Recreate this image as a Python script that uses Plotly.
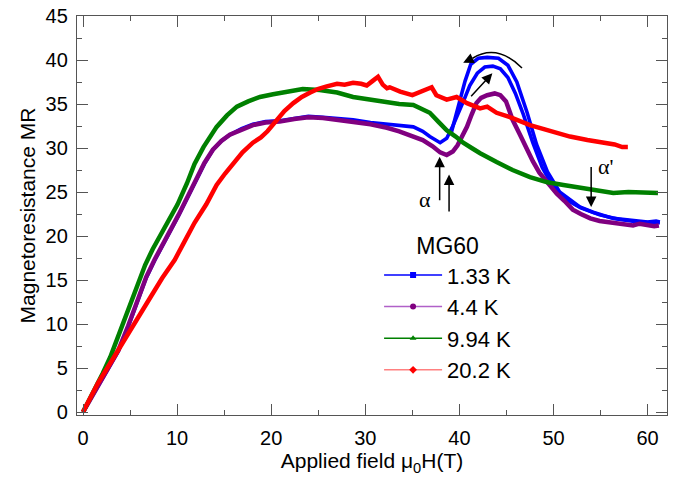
import plotly.graph_objects as go

# ---- data ----
x_44 = [0, 1.1, 2.1, 3.1, 3.75, 4.8, 5.9, 6.7, 7.6, 8.4, 9.3, 10.15, 11.05, 12.1, 12.9, 13.8, 14.7, 15.6,
        16.85, 18.05, 19.4, 20.9, 22.45, 23.95, 25.5, 27.0, 28.7, 30.55, 32.3, 33.6, 35.1, 36.1, 37.15,
        37.95, 38.65, 39.3, 39.8, 40.3, 40.8, 41.3, 41.8, 42.3, 42.95, 43.75, 44.35, 44.95, 45.65, 46.4,
        47.2, 47.8, 48.5, 49.35, 50.35, 51.15, 52.05, 52.9, 53.9, 54.9, 56.35, 57.45, 58.45, 59.15, 60.0,
        60.7, 61.2]
y_44 = [0, 2.1, 4.1, 5.9, 7.0, 9.8, 13.1, 15.3, 17.3, 19.0, 20.7, 22.4, 24.4, 26.7, 28.3, 29.8, 30.8, 31.5,
        32.1, 32.6, 32.9, 33.0, 33.3, 33.5, 33.4, 33.2, 33.0, 32.7, 32.3, 31.9, 31.3, 30.9, 30.2, 29.5, 29.2,
        29.6, 30.3, 31.3, 32.4, 33.8, 35.1, 35.7, 36.0, 36.2, 36.0, 35.3, 33.2, 31.6, 29.8, 28.5, 27.2, 26.0,
        24.8, 24.0, 23.0, 22.5, 22.0, 21.7, 21.5, 21.4, 21.2, 21.4, 21.2, 21.1, 21.2]

x_133_up = [0, 1.1, 2.1, 3.1, 3.75, 4.8, 5.9, 6.7, 7.6, 8.4, 9.3, 10.15, 11.05, 12.1, 12.9, 13.8, 14.7,
            15.6, 16.85, 18.05, 19.4, 20.9, 22.45, 23.95, 25.5, 27.0, 28.7, 30.55, 31.55, 33.1, 35.1, 36.1,
            36.85, 37.95, 38.65, 39.3, 39.9, 40.5, 41.1, 41.9, 42.7, 43.55, 44.35, 45.15, 45.95, 46.8, 47.8,
            48.8, 49.85, 51.05, 52.9, 54.9, 56.95, 58.95, 60.6, 61.3]
y_133_up = [0, 2.0, 4.0, 5.8, 6.9, 9.7, 13.0, 15.2, 17.2, 18.9, 20.6, 22.3, 24.3, 26.6, 28.2, 29.8, 30.8,
            31.5, 32.2, 32.7, 33.0, 33.1, 33.4, 33.6, 33.5, 33.4, 33.2, 32.9, 32.8, 32.6, 32.4, 31.9, 31.3,
            30.6, 31.1, 32.5, 33.9, 35.5, 37.1, 38.5, 39.2, 39.3, 39.0, 38.0, 36.2, 33.8, 30.6, 27.8, 25.8,
            24.3, 23.2, 22.4, 21.9, 21.6, 21.5, 21.5]

x_133_down = [61.3, 60.9, 60.0, 57.95, 56.35, 54.2, 52.8, 50.65, 49.35, 48.2, 47.2, 46.1, 45.15, 44.15,
              42.95, 42.0, 41.2, 40.6, 40.0, 39.5, 39.1]
y_133_down = [21.6, 21.7, 21.6, 21.8, 22.0, 22.7, 23.3, 25.0, 27.3, 30.4, 34.0, 37.5, 39.4, 40.2, 40.3,
              40.2, 39.5, 37.6, 35.3, 33.0, 31.6]

x_994 = [0, 1.1, 2.1, 2.9, 3.85, 4.8, 5.7, 6.6, 7.4, 8.3, 9.25, 10.05, 11.05, 11.85, 12.8, 13.5, 14.2, 15.3,
         16.35, 17.55, 18.8, 20.2, 21.7, 23.35, 25.15, 27.0, 28.7, 30.55, 32.3, 33.6, 35.1, 36.85, 37.75,
         38.65, 39.6, 40.4, 41.3, 42.2, 43.95, 45.65, 47.5, 49.35, 51.05, 52.8, 54.5, 56.35, 57.95, 59.5,
         60.4, 61.1]
y_994 = [0, 2.2, 4.4, 6.25, 8.9, 11.6, 14.3, 16.7, 18.5, 20.2, 22.0, 23.6, 26.0, 28.2, 30.1, 31.3, 32.4,
         33.7, 34.7, 35.3, 35.8, 36.1, 36.4, 36.7, 36.6, 36.3, 35.8, 35.5, 35.1, 35.0, 34.9, 34.0, 33.0,
         32.0, 31.3, 30.6, 30.0, 29.4, 28.4, 27.5, 26.7, 26.1, 25.8, 25.5, 25.2, 24.9, 25.0, 24.9, 24.9, 24.9]

x_202 = [0, 0.9, 1.6, 3.15, 4.75, 6.0, 7.2, 8.4, 9.75, 10.75, 11.85, 13.1, 14.2, 15.1, 15.95, 16.95, 18.05,
         18.9, 19.6, 20.6, 21.4, 22.35, 23.25, 24.15, 24.95, 25.9, 27.0, 27.8, 28.7, 29.55, 30.15, 30.75,
         31.35, 31.85, 32.3, 32.6, 33.7, 35.0, 36.15, 37.05, 37.55, 38.65, 39.7, 40.8, 42.2, 42.95, 43.95,
         45.65, 47.5, 49.35, 50.35, 51.75, 53.6, 55.7, 56.5, 57.3, 57.9]
y_202 = [0, 1.8, 3.3, 6.0, 8.9, 11.0, 13.1, 15.2, 17.3, 19.3, 21.5, 23.6, 25.8, 27.1, 28.3, 29.5, 30.6,
         31.2, 31.9, 33.2, 34.2, 35.1, 35.8, 36.3, 36.7, 37.0, 37.3, 37.2, 37.4, 37.3, 37.1, 37.6, 38.1,
         37.2, 36.8, 36.9, 36.4, 36.0, 36.5, 36.9, 36.0, 35.5, 35.8, 35.1, 34.5, 34.7, 34.0, 33.4, 32.6,
         32.0, 31.7, 31.3, 30.9, 30.6, 30.4, 30.1, 30.1]

legend_names = ["1.33 K", "4.4 K", "9.94 K", "20.2 K"]
legend_title = "MG60"

BLUE = "#0000ff"
PURPLE = "#800080"
GREEN = "#008000"
RED = "#ff0000"
LW = 4.5
LW_BLUE = 3.6

fig = go.Figure()

# data curves (drawn in stacking order: blue, purple, green, red)
fig.add_trace(go.Scatter(x=x_133_up, y=y_133_up, mode="lines", line=dict(color=BLUE, width=LW_BLUE),
                         showlegend=False, hoverinfo="skip"))
fig.add_trace(go.Scatter(x=x_133_down, y=y_133_down, mode="lines", line=dict(color=BLUE, width=LW_BLUE),
                         showlegend=False, hoverinfo="skip"))
fig.add_trace(go.Scatter(x=x_44, y=y_44, mode="lines", line=dict(color=PURPLE, width=LW),
                         showlegend=False, hoverinfo="skip"))
fig.add_trace(go.Scatter(x=x_994, y=y_994, mode="lines", line=dict(color=GREEN, width=LW),
                         showlegend=False, hoverinfo="skip"))
fig.add_trace(go.Scatter(x=x_202, y=y_202, mode="lines", line=dict(color=RED, width=LW),
                         showlegend=False, hoverinfo="skip"))

# legend entries
leg_styles = [
    (BLUE, BLUE, "square"),
    ("#b060c8", PURPLE, "circle"),
    (GREEN, GREEN, "triangle-up"),
    ("#ff8080", RED, "diamond"),
]
for name, (lc, mc, sym) in zip(legend_names, leg_styles):
    fig.add_trace(go.Scatter(x=[None], y=[None], mode="lines+markers", name=name,
                             line=dict(color=lc, width=1.5),
                             marker=dict(color=mc, symbol=sym, size=6)))

# annotations
arrow_kw = dict(showarrow=True, arrowhead=2, arrowsize=1.4, arrowwidth=1.5, arrowcolor="black",
                axref="x", ayref="y", text="")
fig.add_annotation(x=37.9, y=29.0, ax=37.9, ay=23.9, **arrow_kw)
fig.add_annotation(x=38.9, y=27.0, ax=38.9, ay=22.6, **arrow_kw)
fig.add_annotation(x=54.0, y=23.3, ax=54.0, ay=28.0, **arrow_kw)
fig.add_annotation(x=43.5, y=38.5, ax=41.1, ay=35.7, **arrow_kw)
fig.add_annotation(x=40.4, y=39.7, ax=41.5, ay=40.25, **arrow_kw)
fig.add_shape(type="path", path="M 46.65,39.1 Q 44.0,41.9 41.4,40.2",
              line=dict(color="black", width=1.5), xref="x", yref="y")

txt_font = dict(family="Liberation Serif, Times New Roman, serif", size=22, color="black")
fig.add_annotation(x=36.3, y=24.1, text="α", showarrow=False, font=txt_font)
fig.add_annotation(x=55.6, y=27.9, text="α'", showarrow=False, font=txt_font)

axis_common = dict(
    showline=True, linecolor="#555555", linewidth=1.3, mirror="ticks",
    ticks="inside", ticklen=11, tickwidth=1.2, tickcolor="#555555",
    showgrid=False, zeroline=False, automargin=False,
    tickfont=dict(family="Liberation Sans, Arial, sans-serif", size=20, color="black"),
)

fig.update_xaxes(range=[-0.64, 62.06], tick0=0, dtick=10, ticklabelstandoff=5,
                 minor=dict(ticks="inside", ticklen=5, tickwidth=1.2, tickcolor="#555555", dtick=5),
                 title=dict(text="Applied field μ<sub>0</sub>H(T)", standoff=4,
                            font=dict(family="Liberation Sans, Arial, sans-serif", size=21, color="black")),
                 **axis_common)
fig.update_yaxes(range=[-0.34, 45.0], tick0=0, dtick=5, ticklabelstandoff=4,
                 minor=dict(ticks="inside", ticklen=5, tickwidth=1.2, tickcolor="#555555", dtick=2.5),
                 title=dict(text="Magnetoresistance MR", standoff=4,
                            font=dict(family="Liberation Sans, Arial, sans-serif", size=21, color="black")),
                 **axis_common)

fig.update_layout(
    width=677, height=478,
    margin=dict(l=77, r=10, t=16, b=63),
    paper_bgcolor="white", plot_bgcolor="white",
    legend=dict(x=0.512, y=0.478, xanchor="left", yanchor="top",
                bgcolor="rgba(0,0,0,0)", borderwidth=0,
                title=dict(text=legend_title, side="top center",
                           font=dict(family="Liberation Sans, Arial, sans-serif", size=23)),
                font=dict(family="Liberation Sans, Arial, sans-serif", size=22, color="black"),
                itemwidth=58, tracegroupgap=0),
    showlegend=True,
)

fig.write_html("out.html", config={"displayModeBar": False},
               post_script="document.body.style.margin='0';")
